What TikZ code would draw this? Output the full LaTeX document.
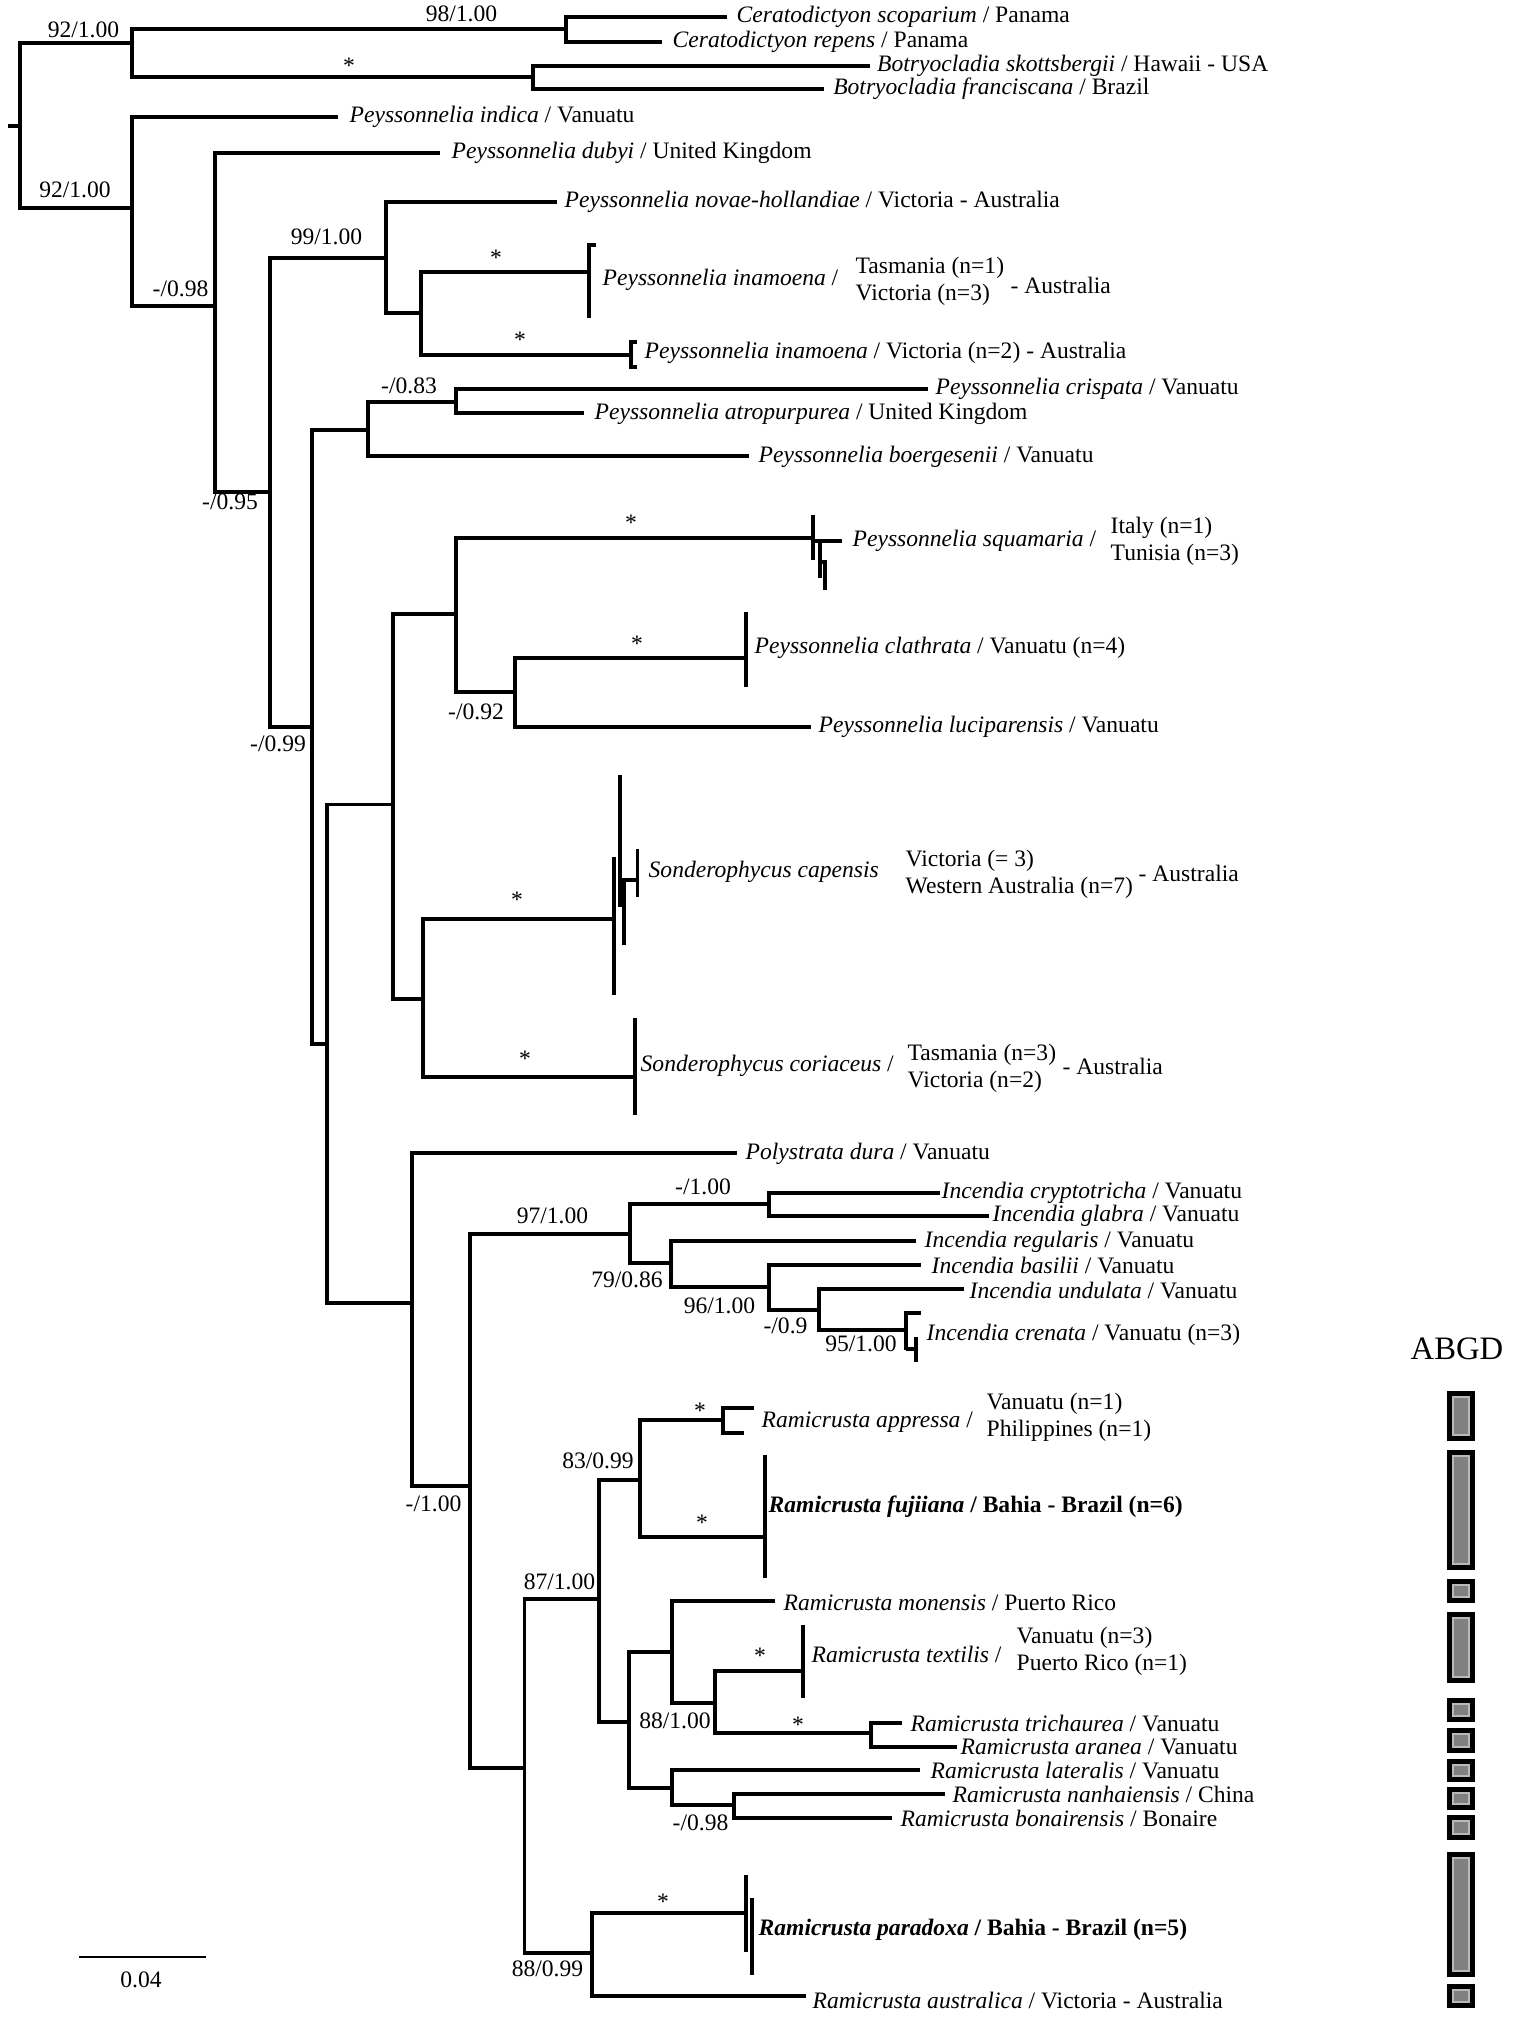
\documentclass[tikz,border=0pt]{standalone}
\usepackage{fontspec}
\setmainfont{Liberation Serif}
\usetikzlibrary{calc}

\begin{document}
\begin{tikzpicture}[x=0.01cm, y=-0.01cm]

  % ---------- Styling ----------
  \tikzset{
    branch/.style={draw=black, line width=1.1pt},
    twig/.style={draw=black, line width=0.9pt},
    taxon/.style={anchor=west, inner sep=0pt, font=\fontsize{6.7}{7.6}\selectfont},
    support/.style={inner sep=0pt, font=\fontsize{6.7}{7.6}\selectfont},
    locality/.style={anchor=west, inner sep=0pt, align=left, font=\fontsize{6.7}{7.6}\selectfont},
    abgdouter/.style={fill=black},
    abgdinner/.style={fill=gray, draw=gray!55, line width=0.4pt}
  }

  \useasboundingbox (0,0) rectangle (1538,2017);

  % ---------- Internal nodes ----------
  \coordinate (stub) at (8,126);
  \coordinate (root) at (19.6,126);
  \coordinate (n1) at (131.6,43);
  \coordinate (nCer) at (566,29);
  \coordinate (nBot) at (533,77);
  \coordinate (n2) at (131.6,208);
  \coordinate (n3) at (215,306);
  \coordinate (n4) at (270,492);
  \coordinate (n5) at (385.6,258);
  \coordinate (n7) at (421,313);
  \coordinate (n6) at (312,727);
  \coordinate (n8) at (368,430);
  \coordinate (n10) at (456,402);
  \coordinate (n9) at (327,1044);
  \coordinate (n11) at (393,804.5);
  \coordinate (n13) at (456,614);
  \coordinate (n15) at (515,692);
  \coordinate (n14) at (423,999);
  \coordinate (n12) at (412,1303);
  \coordinate (n16) at (470,1486);
  \coordinate (n17) at (630,1234);
  \coordinate (n19) at (769,1204);
  \coordinate (n20) at (671,1263);
  \coordinate (n21) at (769,1287);
  \coordinate (n22) at (819,1310);
  \coordinate (n18) at (524.5,1768);
  \coordinate (n23) at (599,1599);
  \coordinate (n25) at (640,1480);
  \coordinate (n27) at (723,1420);
  \coordinate (n26) at (629,1722);
  \coordinate (n28) at (672,1652);
  \coordinate (n30) at (715,1703);
  \coordinate (n31) at (871,1733);
  \coordinate (n29) at (672,1788);
  \coordinate (n32) at (734,1805);
  \coordinate (n24) at (592,1953);

  % ---------- Tips ----------
  \coordinate (tCs) at (727,17);
  \coordinate (tCr) at (662,42);
  \coordinate (tBs) at (870,66);
  \coordinate (tBf) at (824,89);
  \coordinate (tPind) at (338,117);
  \coordinate (tPdub) at (440,153);
  \coordinate (tPnov) at (557,202);
  \coordinate (cInamA) at (589,272);
  \coordinate (cInamB) at (631,355);
  \coordinate (tPcri) at (928,389);
  \coordinate (tPatr) at (584,413);
  \coordinate (tPboe) at (749,456);
  \coordinate (cSqu) at (813,538);
  \coordinate (cCla) at (746,658);
  \coordinate (tPluc) at (811,727);
  \coordinate (cCap) at (614,919);
  \coordinate (cCor) at (635,1077);
  \coordinate (tPoly) at (737,1153);
  \coordinate (tIcry) at (940,1193);
  \coordinate (tIgla) at (989,1216);
  \coordinate (tIreg) at (916,1241);
  \coordinate (tIbas) at (921,1265);
  \coordinate (tIund) at (964,1289);
  \coordinate (cIcre) at (906,1330);
  \coordinate (tRapA) at (754,1408);
  \coordinate (tRapB) at (744,1433);
  \coordinate (cFuj) at (765,1537);
  \coordinate (tRmon) at (775,1601);
  \coordinate (cTex) at (803,1671);
  \coordinate (tRtri) at (902,1723);
  \coordinate (tRara) at (957,1747);
  \coordinate (tRlat) at (920,1770);
  \coordinate (tRnan) at (945,1794);
  \coordinate (tRbon) at (892,1818);
  \coordinate (cPar) at (746,1913);
  \coordinate (tRaus) at (806,1996);

  % ---------- Branches ----------
  \draw[branch] (stub) -- (root);
  \foreach \a/\b in {root/n1, root/n2, n1/nCer, n1/nBot, nCer/tCs, nCer/tCr, nBot/tBs, nBot/tBf,
      n2/tPind, n2/n3, n3/tPdub, n3/n4, n4/n5, n4/n6, n5/tPnov, n5/n7, n7/cInamA, n7/cInamB,
      n6/n8, n6/n9, n8/n10, n8/tPboe, n10/tPcri, n10/tPatr,
      n9/n11, n9/n12, n11/n13, n11/n14, n13/cSqu, n13/n15, n15/cCla, n15/tPluc, n14/cCap, n14/cCor,
      n12/tPoly, n12/n16, n16/n17, n16/n18, n17/n19, n17/n20, n19/tIcry, n19/tIgla,
      n20/tIreg, n20/n21, n21/tIbas, n21/n22, n22/tIund, n22/cIcre,
      n18/n23, n18/n24, n23/n25, n23/n26, n25/n27, n25/cFuj, n27/tRapA, n27/tRapB,
      n26/n28, n26/n29, n28/tRmon, n28/n30, n30/cTex, n30/n31, n31/tRtri, n31/tRara,
      n29/tRlat, n29/n32, n32/tRnan, n32/tRbon, n24/cPar, n24/tRaus}
    \draw[branch] (\a) |- (\b);

  % collapsed clades
  \draw[branch] (596,245) -- (589,245) -- (589,318);
  \draw[branch] (637,342) -- (631,342) -- (631,367) -- (637,367);
  \draw[branch] (813,515) -- (813,560);
  \draw[branch] (813,541) -- (842,541);
  \draw[twig] (820,541) -- (820,578);
  \draw[twig] (820,562) -- (825,562) -- (825,590);
  \draw[branch] (746,612) -- (746,687);
  \draw[twig] (614,857) -- (614,995);
  \draw[twig] (620,775) -- (620,907);
  \draw[twig] (624,878) -- (624,945);
  \draw[branch] (624,880) -- (637.5,880);
  \draw[twig] (637.5,849) -- (637.5,897);
  \draw[branch] (635,1018) -- (635,1115);
  \draw[branch] (921,1313) -- (906,1313) -- (906,1350);
  \draw[branch] (906,1349) -- (916,1349);
  \draw[twig] (916,1337) -- (916,1362);
  \draw[branch] (765,1455) -- (765,1578);
  \draw[branch] (803,1625) -- (803,1698);
  \draw[twig] (746,1875) -- (746,1952);
  \draw[twig] (752,1898) -- (752,1975);

  % ---------- Support values ----------
  \node[support] (s1) at (83.5,30) {92/1.00};
  \node[support] (s2) at (461.5,14) {98/1.00};
  \node[support] (s3) at (349,66) {*};
  \node[support] (s4) at (75,190) {92/1.00};
  \node[support] (s5) at (180.5,289) {-/0.98};
  \node[support] (s6) at (230,502) {-/0.95};
  \node[support] (s7) at (326.5,237) {99/1.00};
  \node[support] (s8) at (496,258) {*};
  \node[support] (s9) at (520,340) {*};
  \node[support] (s10) at (409,386) {-/0.83};
  \node[support] (s11) at (278,744) {-/0.99};
  \node[support] (s12) at (631,523) {*};
  \node[support] (s13) at (637,644) {*};
  \node[support] (s14) at (476,712) {-/0.92};
  \node[support] (s15) at (517,900) {*};
  \node[support] (s16) at (525,1059) {*};
  \node[support] (s17) at (433.5,1504) {-/1.00};
  \node[support] (s18) at (552.5,1216) {97/1.00};
  \node[support] (s19) at (703,1187) {-/1.00};
  \node[support] (s20) at (627,1280) {79/0.86};
  \node[support] (s21) at (719.5,1306) {96/1.00};
  \node[support] (s22) at (785.5,1326) {-/0.9};
  \node[support] (s23) at (861,1344) {95/1.00};
  \node[support] (s24) at (700,1411) {*};
  \node[support] (s25) at (598,1461) {83/0.99};
  \node[support] (s26) at (702,1523) {*};
  \node[support] (s27) at (559.5,1582) {87/1.00};
  \node[support] (s28) at (675,1721) {88/1.00};
  \node[support] (s29) at (760,1656) {*};
  \node[support] (s30) at (798,1725) {*};
  \node[support] (s31) at (700.5,1823) {-/0.98};
  \node[support] (s32) at (663,1902) {*};
  \node[support] (s33) at (547.5,1969) {88/0.99};

  % ---------- Taxa ----------
  \node[taxon] (xCs) at (736,17) {\textit{Ceratodictyon scoparium} / Panama};
  \node[taxon] (xCr) at (672,42) {\textit{Ceratodictyon repens} / Panama};
  \node[taxon] (xBs) at (876.5,66) {\textit{Botryocladia skottsbergii} / Hawaii - USA};
  \node[taxon] (xBf) at (832.6,89) {\textit{Botryocladia franciscana} / Brazil};
  \node[taxon] (xPind) at (349,117) {\textit{Peyssonnelia indica} / Vanuatu};
  \node[taxon] (xPdub) at (451,153) {\textit{Peyssonnelia dubyi} / United Kingdom};
  \node[taxon] (xPnov) at (564,202) {\textit{Peyssonnelia novae-hollandiae} / Victoria - Australia};
  \node[taxon] (xInamA) at (602,280) {\textit{Peyssonnelia inamoena} /};
  \node[locality] (lInamA) at (855,281) {Tasmania (n=1)\\Victoria (n=3)};
  \node[locality] (aInamA) at (1010,285) {- Australia};
  \node[taxon] (xInamB) at (644,353) {\textit{Peyssonnelia inamoena} / Victoria (n=2) - Australia};
  \node[taxon] (xPcri) at (935,389) {\textit{Peyssonnelia crispata} / Vanuatu};
  \node[taxon] (xPatr) at (594,414) {\textit{Peyssonnelia atropurpurea} / United Kingdom};
  \node[taxon] (xPboe) at (758,457) {\textit{Peyssonnelia boergesenii} / Vanuatu};
  \node[taxon] (xSqu) at (852,541) {\textit{Peyssonnelia squamaria} /};
  \node[locality] (lSqu) at (1110,541) {Italy (n=1)\\Tunisia (n=3)};
  \node[taxon] (xCla) at (754,648) {\textit{Peyssonnelia clathrata} / Vanuatu (n=4)};
  \node[taxon] (xPluc) at (818,727) {\textit{Peyssonnelia luciparensis} / Vanuatu};
  \node[taxon] (xCap) at (648,872) {\textit{Sonderophycus capensis}};
  \node[locality] (lCap) at (905,874) {Victoria (= 3)\\Western Australia (n=7)};
  \node[locality] (aCap) at (1138,873) {- Australia};
  \node[taxon] (xCor) at (640,1066) {\textit{Sonderophycus coriaceus} /};
  \node[locality] (lCor) at (907,1068) {Tasmania (n=3)\\Victoria (n=2)};
  \node[locality] (aCor) at (1062,1066) {- Australia};
  \node[taxon] (xPoly) at (745,1154) {\textit{Polystrata dura} / Vanuatu};
  \node[taxon] (xIcry) at (941,1193) {\textit{Incendia cryptotricha} / Vanuatu};
  \node[taxon] (xIgla) at (992,1216) {\textit{Incendia glabra} / Vanuatu};
  \node[taxon] (xIreg) at (924,1242) {\textit{Incendia regularis} / Vanuatu};
  \node[taxon] (xIbas) at (931,1265) {\textit{Incendia basilii} / Vanuatu};
  \node[taxon] (xIund) at (969,1290) {\textit{Incendia undulata} / Vanuatu};
  \node[taxon] (xIcre) at (926,1335) {\textit{Incendia crenata} / Vanuatu (n=3)};
  \node[taxon] (xRapp) at (761,1422) {\textit{Ramicrusta appressa} /};
  \node[locality] (lRapp) at (986,1417) {Vanuatu (n=1)\\Philippines (n=1)};
  \node[taxon] (xFuj) at (768,1507) {\textbf{\textit{Ramicrusta fujiiana} / Bahia - Brazil (n=6)}};
  \node[taxon] (xRmon) at (783,1603) {\textit{Ramicrusta monensis} / Puerto Rico};
  \node[taxon] (xTex) at (811,1654) {\textit{Ramicrusta textilis} /};
  \node[locality] (lTex) at (1016,1651) {Vanuatu (n=3)\\Puerto Rico (n=1)};
  \node[taxon] (xRtri) at (910,1723) {\textit{Ramicrusta trichaurea} / Vanuatu};
  \node[taxon] (xRara) at (960,1747) {\textit{Ramicrusta aranea} / Vanuatu};
  \node[taxon] (xRlat) at (930,1770) {\textit{Ramicrusta lateralis} / Vanuatu};
  \node[taxon] (xRnan) at (952,1794) {\textit{Ramicrusta nanhaiensis} / China};
  \node[taxon] (xRbon) at (900,1818) {\textit{Ramicrusta bonairensis} / Bonaire};
  \node[taxon] (xPar) at (758,1930) {\textbf{\textit{Ramicrusta paradoxa} / Bahia - Brazil (n=5)}};
  \node[taxon] (xRaus) at (812,2000) {\textit{Ramicrusta australica} / Victoria - Australia};

  % ---------- Scale bar ----------
  \coordinate (barL) at (79,1957);
  \coordinate (barR) at (206,1957);
  \draw[line width=0.5pt] (barL) -- (barR);
  \node[support] (barLab) at (141,1980) {0.04};

  % ---------- ABGD ----------
  \node[inner sep=0pt, font=\fontsize{9.3}{10}\selectfont] (abgd) at (1457,1349) {ABGD};
  \foreach \ya/\yb in {1391/1441, 1450/1570, 1579/1603, 1612/1683, 1698/1722, 1728/1753,
      1759/1782, 1787/1810, 1815/1840, 1852/1977, 1984/2008}{
    \fill[abgdouter] (1447,\ya) rectangle (1475,\yb);
    \filldraw[abgdinner] (1453,\ya+6) rectangle (1469,\yb-6);
  }

\end{tikzpicture}
\end{document}
